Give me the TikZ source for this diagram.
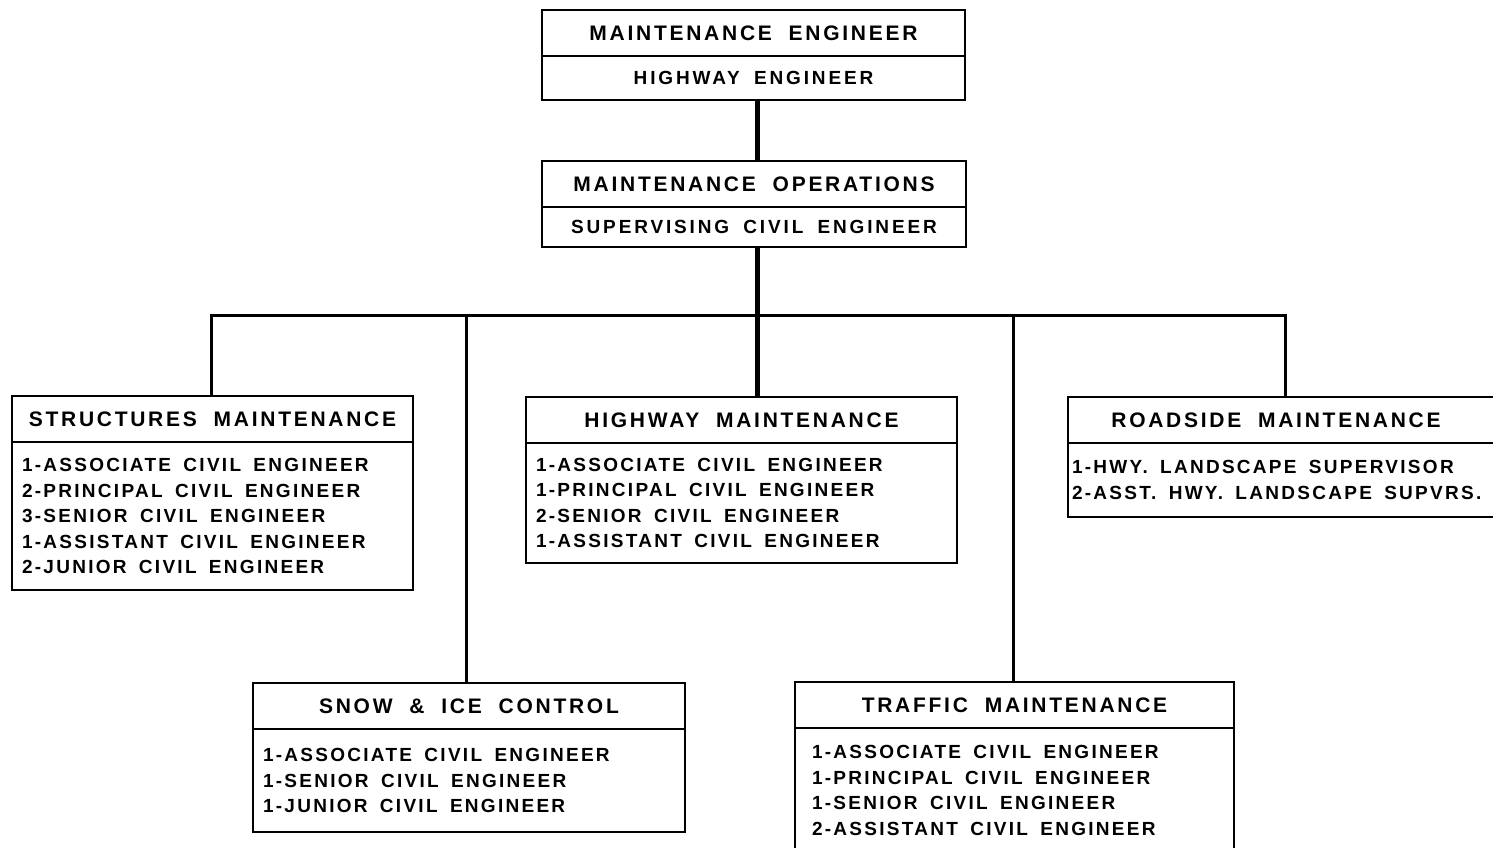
\documentclass[tikz,border=0pt]{standalone}
\usepackage{fontspec}
\newfontfamily\headfont[LetterSpace=13]{Liberation Sans}
\newfontfamily\rankfont[LetterSpace=15]{Liberation Sans}
\newfontfamily\stafffont[LetterSpace=12]{Liberation Sans}
\newcommand\headtype{\headfont\bfseries\fontsize{21}{24}\selectfont\spaceskip 0.8em\relax}
\newcommand\ranktype{\rankfont\bfseries\fontsize{19}{24}\selectfont\spaceskip 0.75em\relax}
\newcommand\stafftype{\stafffont\bfseries\fontsize{19}{25.5}\selectfont}
\usetikzlibrary{positioning}

\begin{document}
\begin{tikzpicture}[x=1pt,y=-1pt,
			every node/.style={inner sep=0pt, outer sep=0pt},
			head/.style={draw, line width=1.2pt, minimum height=46pt, anchor=north west, align=center, font=\headtype},
			rank/.style={draw, line width=1.2pt, align=center, font=\ranktype},
			staff/.style={draw, line width=1.2pt, align=left, inner xsep=10pt, font=\stafftype,
				execute at begin node={\spaceskip 0.65em\relax}},
			frame/.style={line width=2.8pt, line join=miter},
			link/.style={line width=3pt, line join=miter},
			trunk/.style={line width=5pt}
			]
			\useasboundingbox (0,0) rectangle (1493,847);

			% top of the chart
			\node[head, minimum width=423pt] (tophead) at (542,10) {MAINTENANCE ENGINEER};
			\node[rank, minimum width=423pt, minimum height=44pt, below=0pt of tophead] (topbody) {HIGHWAY ENGINEER};
			\node[head, minimum width=424pt] (opshead) at (542,161) {MAINTENANCE OPERATIONS};
			\node[rank, minimum width=424pt, minimum height=40pt, below=0pt of opshead] (opsbody) {SUPERVISING CIVIL ENGINEER};

			% divisions
			\node[head, minimum width=401pt] (strhead) at (12,396) {STRUCTURES MAINTENANCE};
			\node[staff, text width=381pt, minimum height=148pt, below=0pt of strhead] (strbody)
				{1-ASSOCIATE CIVIL ENGINEER\\ 2-PRINCIPAL CIVIL ENGINEER\\ 3-SENIOR CIVIL ENGINEER\\
				 1-ASSISTANT CIVIL ENGINEER\\ 2-JUNIOR CIVIL ENGINEER};

			\node[head, minimum width=431pt] (hwyhead) at (526,397) {HIGHWAY MAINTENANCE};
			\node[staff, text width=411pt, minimum height=120pt, below=0pt of hwyhead] (hwybody)
				{1-ASSOCIATE CIVIL ENGINEER\\ 1-PRINCIPAL CIVIL ENGINEER\\ 2-SENIOR CIVIL ENGINEER\\
				 1-ASSISTANT CIVIL ENGINEER};

			\node[head, minimum width=440pt] (roadhead) at (1068,397) {\hspace*{-24pt}ROADSIDE MAINTENANCE};
			\node[staff, text width=432pt, inner xsep=4pt, minimum height=74pt, below=0pt of roadhead] (roadbody)
				{1-HWY. LANDSCAPE SUPERVISOR\\ 2-ASST. HWY. LANDSCAPE SUPVRS.};

			\node[head, minimum width=432pt] (snowhead) at (253,683) {SNOW \& ICE CONTROL};
			\node[staff, text width=412pt, minimum height=103pt, below=0pt of snowhead] (snowbody)
				{1-ASSOCIATE CIVIL ENGINEER\\ 1-SENIOR CIVIL ENGINEER\\ 1-JUNIOR CIVIL ENGINEER};

			\node[head, minimum width=439pt] (trfhead) at (795,682) {TRAFFIC MAINTENANCE};
			\node[staff, text width=405pt, inner xsep=17pt, minimum height=125pt, below=0pt of trfhead] (trfbody)
				{1-ASSOCIATE CIVIL ENGINEER\\ 1-PRINCIPAL CIVIL ENGINEER\\ 1-SENIOR CIVIL ENGINEER\\
				 2-ASSISTANT CIVIL ENGINEER};

			% outer frames
			\foreach \u in {top,ops,str,hwy,road,snow,trf}
				\draw[frame] (\u head.north west) rectangle (\u body.south east);

			% connectors
			\coordinate (bus) at (757,315);
			\coordinate (d1) at (211,315);
			\coordinate (d2) at (466,315);
			\coordinate (d4) at (1013,315);
			\coordinate (d5) at (1285,315);

			\draw[trunk] (topbody.south -| bus) -- (opshead.north -| bus);
			\draw[trunk] (opsbody.south -| bus) -- (bus |- hwyhead.north);
			\draw[link] (d1 |- strhead.north) -- (d1) -- (d5) -- (d5 |- roadhead.north);
			\draw[link] (d2) -- (d2 |- snowhead.north);
			\draw[link] (d4) -- (d4 |- trfhead.north);
		\end{tikzpicture}
\end{document}
